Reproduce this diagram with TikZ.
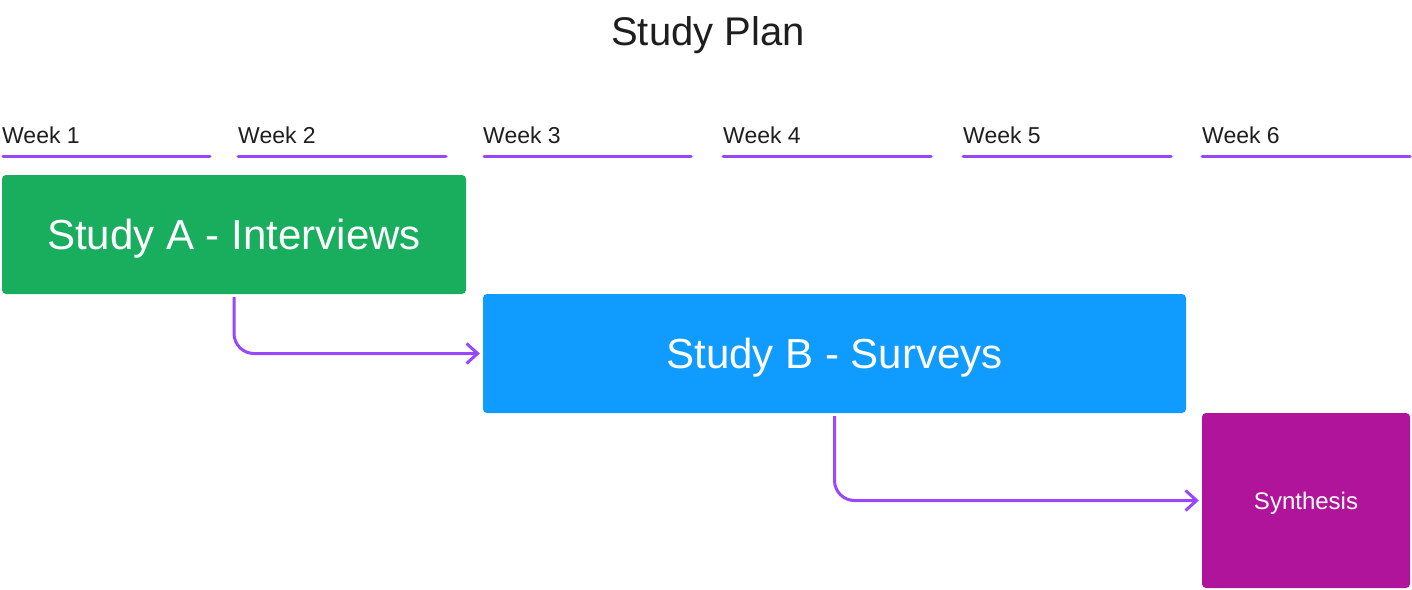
\documentclass[tikz,border=0pt]{standalone}
\usepackage{fontspec}
\setmainfont{Liberation Sans}
\usetikzlibrary{arrows.meta}
\definecolor{ink}{HTML}{1E1E1E}
\definecolor{linepurple}{HTML}{9747FF}
\definecolor{boxgreen}{HTML}{18AE5E}
\definecolor{boxblue}{HTML}{0F9BFF}
\definecolor{boxmag}{HTML}{B0149A}
\tikzset{
  weeklabel/.style={anchor=base west, inner sep=0pt, text=ink, font=\fontsize{23}{26}\selectfont},
  weekline/.style={draw=linepurple, line width=3pt, line cap=round},
  taskbox/.style={rectangle, rounded corners=4pt, inner sep=0pt, text=white,
    text depth=0pt, align=center},
  bigtext/.style={font=\fontsize{42}{48}\selectfont, text height=30pt},
  smalltext/.style={font=\fontsize{24}{28}\selectfont, text height=17pt},
  conn/.style={draw=linepurple, line width=3pt, rounded corners=20pt,
    -{Straight Barb[length=11pt,width=20pt,line width=3pt]}}
}
\begin{document}
\begin{tikzpicture}[x=1pt,y=-1pt]
\useasboundingbox (0,0) rectangle (1412,589);
\node[anchor=base, inner sep=0pt, text=ink, font=\fontsize{40}{46}\selectfont] (title) at (708,45) {Study Plan};

\node[weeklabel] (w1) at (2,143) {Week 1};
\node[weeklabel] (w2) at (238,143) {Week 2};
\node[weeklabel] (w3) at (483,143) {Week 3};
\node[weeklabel] (w4) at (723,143) {Week 4};
\node[weeklabel] (w5) at (963,143) {Week 5};
\node[weeklabel] (w6) at (1202,143) {Week 6};

\draw[weekline] (3,156) -- (210,156);
\draw[weekline] (238,156) -- (446,156);
\draw[weekline] (484,156) -- (691,156);
\draw[weekline] (723,156) -- (931,156);
\draw[weekline] (963,156) -- (1171,156);
\draw[weekline] (1202,156) -- (1410,156);

\node[taskbox, bigtext, fill=boxgreen, minimum width=464pt, minimum height=119pt]
  (a) at (234,234.5) {Study A - Interviews};
\node[taskbox, bigtext, fill=boxblue, minimum width=703pt, minimum height=119pt]
  (b) at (834.5,353.5) {Study B - Surveys};
\node[taskbox, smalltext, fill=boxmag, minimum width=208pt, minimum height=175pt]
  (c) at (1306,500.5) {Synthesis};

\draw[conn] ([yshift=-3pt]a.south) |- ([xshift=-3pt]b.west);
\draw[conn] ([yshift=-3pt]b.south) |- ([xshift=-3pt]c.west);
\end{tikzpicture}
\end{document}
